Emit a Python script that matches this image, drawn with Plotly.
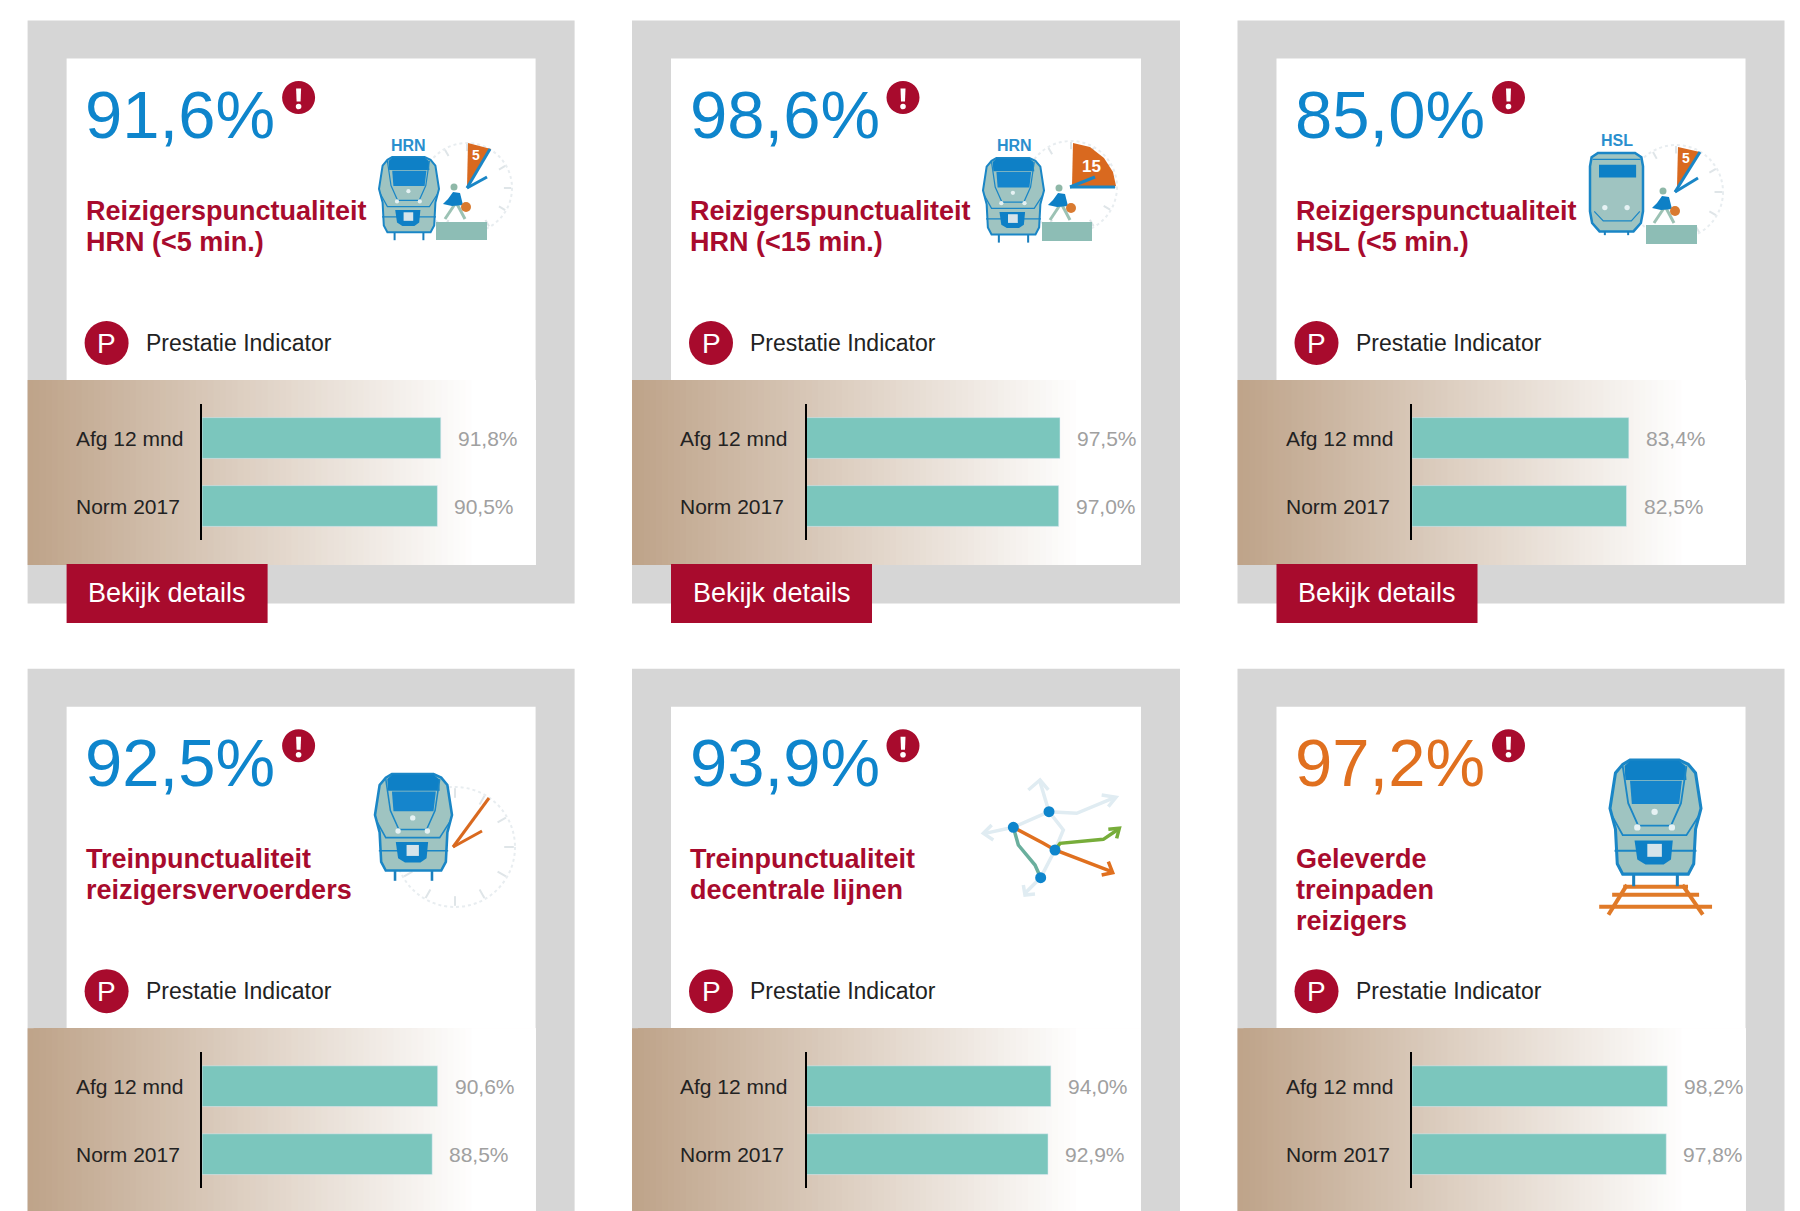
import math
from plotly.graph_objects import Bar, Figure

# data
big_values = [91.6, 98.6, 85.0, 92.5, 93.9, 97.2]
afg_values = [91.8, 97.5, 83.4, 90.6, 94.0, 98.2]
norm_values = [90.5, 97.0, 82.5, 88.5, 92.9, 97.8]
categories = ["Afg 12 mnd", "Norm 2017"]
titles = [
    ["Reizigerspunctualiteit", "HRN (<5 min.)"],
    ["Reizigerspunctualiteit", "HRN (<15 min.)"],
    ["Reizigerspunctualiteit", "HSL (<5 min.)"],
    ["Treinpunctualiteit", "reizigersvervoerders"],
    ["Treinpunctualiteit", "decentrale lijnen"],
    ["Geleverde", "treinpaden", "reizigers"],
]
indicator_label = "Prestatie Indicator"
button_label = "Bekijk details"

W, H = 1800, 1211
card_x = [27.6, 632, 1237.5]
card_w = [547, 548, 547]
card_y = [20.5, 668.7]
RED = "#a80b2d"
BLUE = "#0e85cc"
ORANGE = "#e0701f"
TRAIN_FILL = "#9fc4c1"
FONT = "Liberation Sans"

shapes = []
annotations = []


def fx(x):
    return x / W


def fy(y):
    return 1 - y / H


def rect(x0, y0, x1, y1, color):
    shapes.append(dict(type="rect", xref="paper", yref="paper", layer="below",
                       x0=fx(x0), x1=fx(x1), y0=fy(y0), y1=fy(y1),
                       fillcolor=color, line_width=0))


def circle(cx, cy, r, color):
    shapes.append(dict(type="circle", xref="paper", yref="paper", layer="below",
                       x0=fx(cx - r), x1=fx(cx + r), y0=fy(cy - r), y1=fy(cy + r),
                       fillcolor=color, line_width=0))


def poly(points, fill=None, line=None, width=1.5, closed=True):
    d = "M" + " L".join(f"{fx(x):.5f},{fy(y):.5f}" for x, y in points)
    if closed:
        d += " Z"
    s = dict(type="path", xref="paper", yref="paper", layer="below", path=d)
    s["fillcolor"] = fill if fill else "rgba(0,0,0,0)"
    s["line"] = dict(color=line if line else "rgba(0,0,0,0)", width=width if line else 0)
    shapes.append(s)


def text(x, y, s, size, color, anchor="left", bold=False):
    if bold:
        s = "<b>" + s + "</b>"
    annotations.append(dict(xref="paper", yref="paper", x=fx(x), y=fy(y), text=s,
                            showarrow=False, xanchor=anchor, yanchor="middle",
                            font=dict(family=FONT, size=size, color=color)))


def train(x, y, w):
    u = w / 100
    v = u * 0.95
    p = lambda pts: [(x + a * u, y + b * v) for a, b in pts]
    lw = max(2, w / 30)
    poly(p([(26, 132), (26, 146)]), line="#1a7fbd", width=lw, closed=False)
    poly(p([(74, 132), (74, 146)]), line="#1a7fbd", width=lw, closed=False)
    poly(p([(22, 0), (76, 0), (86, 5), (94, 15), (100, 56), (94, 80), (92, 120),
            (86, 132), (14, 132), (8, 120), (6, 80), (0, 56), (6, 15), (14, 5)]),
         fill=TRAIN_FILL, line="#1a86c6", width=lw)
    poly(p([(16, 7), (22, 1), (76, 1), (83, 7), (84, 23), (17, 23)]), fill="#0e80c6")
    poly(p([(14, 7), (20, 50), (31, 76), (67, 76), (78, 50), (84, 7)]),
         line="#1a86c6", width=lw * 0.6, closed=False)
    poly(p([(22, 24), (79, 24), (76, 51), (24, 51)]), fill="#1585cc")
    poly(p([(2, 64), (14, 87), (84, 87), (98, 64)]), line="#1a86c6", width=lw * 0.6, closed=False)
    poly(p([(5, 105), (95, 105)]), line="#1a86c6", width=lw * 0.6, closed=False)
    poly(p([(27, 93), (69, 93), (67, 115), (59, 121), (39, 121), (30, 115)]), fill="#0e80c6")
    poly(p([(41, 97), (57, 97), (57, 112), (41, 112)]), fill="#d5e4ea")
    for a, b in [(49, 60), (30, 78), (68, 78)]:
        circle(x + a * u, y + b * v, 3.5 * u, "#e6f2f4")


def hsl_train(x, y, w):
    u = w / 100
    p = lambda pts: [(x + a * u, y + b * u) for a, b in pts]
    poly(p([(15, 0), (85, 0), (97, 8), (100, 25), (100, 110), (96, 132), (82, 148),
            (18, 148), (4, 132), (0, 110), (0, 25), (3, 8)]),
         fill=TRAIN_FILL, line="#1a86c6", width=2.5)
    poly(p([(5, 12), (95, 12)]), line="#1a86c6", width=1.2, closed=False)
    poly(p([(17, 22), (87, 22), (87, 46), (17, 46)]), fill="#0e80c6")
    poly(p([(8, 110), (25, 128), (78, 128), (94, 110)]), line="#1a86c6", width=1.2, closed=False)
    poly(p([(28, 148), (28, 155)]), line="#1a7fbd", width=2, closed=False)
    poly(p([(72, 148), (72, 155)]), line="#1a7fbd", width=2, closed=False)
    circle(x + 28 * u, y + 103 * u, 5 * u, "#e6f2f4")
    circle(x + 70 * u, y + 103 * u, 5 * u, "#e6f2f4")


def clock(cx, cy, r):
    shapes.append(dict(type="circle", xref="paper", yref="paper", layer="below",
                       x0=fx(cx - r), x1=fx(cx + r), y0=fy(cy - r), y1=fy(cy + r),
                       line=dict(color="#e8edf0", width=2, dash="dot")))
    for i in range(12):
        a = i * math.pi / 6
        poly([(cx + r * 0.82 * math.sin(a), cy - r * 0.82 * math.cos(a)),
              (cx + r * 0.98 * math.sin(a), cy - r * 0.98 * math.cos(a))],
             line="#dfe5e8", width=2, closed=False)


def person(hx, hy):
    poly([(hx + 1, hy + 17), (hx - 9, hy + 32)], line="#9cc2b4", width=3, closed=False)
    poly([(hx + 3, hy + 17), (hx + 11, hy + 32)], line="#9cc2b4", width=3, closed=False)
    poly([(hx - 1, hy + 5), (hx + 6, hy + 6), (hx + 9, hy + 18), (hx - 2, hy + 19),
          (hx - 11, hy + 17), (hx - 6, hy + 12)], fill="#0e80c6")
    circle(hx, hy, 3.5, "#8fb8a8")
    circle(hx + 12, hy + 20, 5, "#d97a30")


def hands(cx, cy, tip1, tip2, color):
    poly([(cx, cy), tip1], line=color, width=3, closed=False)
    poly([(cx, cy), tip2], line=color, width=3, closed=False)


def network():
    c = lambda pts: [(960 + a / 3, 770 + b / 3) for a, b in pts]
    light = "#e0ecf2"
    for pts in [[(160, 172), (267, 125)], [(267, 125), (240, 35)], [(205, 60), (240, 30), (265, 60)],
                [(267, 125), (350, 130), (465, 82)], [(425, 75), (468, 82), (445, 110)],
                [(267, 125), (310, 180), (285, 240)], [(160, 172), (75, 190)],
                [(95, 165), (70, 190), (100, 210)],
                [(285, 240), (242, 323), (195, 370)], [(190, 345), (195, 375), (225, 372)]]:
        poly(c(pts), line=light, width=3.5, closed=False)
    poly(c([(160, 172), (175, 225), (225, 285), (242, 323)]), line="#6aaf9d", width=3.5, closed=False)
    poly(c([(285, 240), (300, 220), (430, 208), (475, 178)]), line="#77ad3a", width=3.5, closed=False)
    poly(c([(445, 178), (478, 175), (470, 205)]), line="#77ad3a", width=3.5, closed=False)
    poly(c([(160, 172), (250, 220), (285, 240), (455, 305)]), line=ORANGE, width=3.5, closed=False)
    poly(c([(445, 275), (458, 308), (425, 315)]), line=ORANGE, width=3.5, closed=False)
    for a, b in [(160, 172), (267, 125), (285, 240), (242, 323)]:
        circle(960 + a / 3, 770 + b / 3, 5.5, BLUE)


def tracks():
    c = lambda pts: [(1220 + a / 2.703, 660 + b / 2.846) for a, b in pts]
    for pts in [[(1100, 640), (1050, 725)], [(1250, 640), (1305, 725)],
                [(1090, 645), (1265, 645)], [(1060, 668), (1295, 668)], [(1025, 702), (1330, 702)]]:
        poly(c(pts), line="#e07a28", width=4, closed=False)


def draw_icon(i):
    if i == 0:
        clock(467, 188, 45)
        poly([(468, 143), (491, 149), (467, 188)], fill="#d9691f")
        text(476, 155, "5", 14, "white", "center", True)
        hands(467, 188, (490, 149), (487, 177), "#1a86c6")
        poly([(436, 222), (487, 222), (487, 240), (436, 240)], fill="#8dbdb5")
        person(454, 187)
        train(379, 157, 60)
        text(408, 146, "HRN", 16, "#2a8fce", "center", True)
    elif i == 1:
        clock(1071, 187, 46)
        poly([(1073, 143), (1090, 147), (1104, 158), (1113, 172), (1116, 186), (1072, 186)], fill="#d9691f")
        text(1091, 166, "15", 17, "white", "center", True)
        hands(1070, 187, (1115, 187), (1095, 177), "#1a86c6")
        poly([(1042, 222), (1092, 222), (1092, 241), (1042, 241)], fill="#8dbdb5")
        person(1059, 188)
        train(983, 158, 61)
        text(1014, 146, "HRN", 16, "#2a8fce", "center", True)
    elif i == 2:
        clock(1676, 192, 47)
        poly([(1678, 147), (1700, 152), (1677, 187)], fill="#d9691f")
        text(1686, 158, "5", 14, "white", "center", True)
        hands(1675, 192, (1700, 152), (1698, 178), "#1a86c6")
        poly([(1646, 225), (1697, 225), (1697, 244), (1646, 244)], fill="#8dbdb5")
        person(1663, 191)
        hsl_train(1590, 153, 53)
        text(1617, 141, "HSL", 16, "#2a8fce", "center", True)
    elif i == 3:
        clock(455, 847, 60)
        train(375, 774, 77)
        hands(453, 847, (489, 798), (482, 831), "#d9691f")
    elif i == 4:
        network()
    else:
        tracks()
        train(1610, 760, 91)


fig = Figure()

for i in range(6):
    n = "" if i == 0 else str(i + 1)
    X = card_x[i % 3]
    Y = card_y[i // 3]
    cw = card_w[i % 3]

    # card background
    rect(X, Y, X + cw, min(Y + 583, H), "#d6d6d6")
    rect(X + 39, Y + 38, X + cw - 39, min(Y + 544.5, H), "white")
    # brown band fading to white
    top, bottom = Y + 359.5, min(Y + 544.5, H)
    for b in range(0, 444, 6):
        t = b / 444
        col = "rgb(%d,%d,%d)" % (191 + 64 * t, 164 + 91 * t, 138 + 117 * t)
        rect(X + b, top, X + cw - 39, bottom, col)
    rect(X + 444, top, X + cw - 39, bottom, "white")

    draw_icon(i)

    # big number with warning mark
    big_color = ORANGE if i == 5 else BLUE
    text(X + 55.5, Y + 94, f"{big_values[i]:.1f}%".replace(".", ","), 67, big_color)
    circle(X + 271, Y + 77, 16.5, RED)
    poly([(X + 268.5, Y + 68), (X + 273.5, Y + 68), (X + 273, Y + 81), (X + 269, Y + 81)], fill="white")
    circle(X + 271, Y + 86, 2.8, "white")

    # title lines
    for k, line in enumerate(titles[i]):
        text(X + 56, Y + 190.5 + k * 31, line, 27, RED, bold=True)

    # indicator
    circle(X + 79, Y + 322.5, 22, RED)
    text(X + 79, Y + 322.5, "P", 28, "white", "center")
    text(X + 116, Y + 322.5, indicator_label, 23, "#222222")

    # button, below the page for the second row
    if Y + 544 < H:
        rect(X + 39, Y + 543.5, X + 240, Y + 602.5, RED)
        text(X + 139.5, Y + 573, button_label, 27, "white", "center")

    # bars
    x0 = X + 174.5
    x1 = x0 + 260
    vals = [afg_values[i], norm_values[i]]
    fig.add_trace(Bar(x=vals, y=categories, orientation="h", marker_color="#7bc6bd",
                      xaxis=f"x{n}", yaxis=f"y{n}", showlegend=False, hoverinfo="skip"))
    fig.update_layout({
        f"xaxis{n}": dict(domain=[fx(x0), fx(x1)], range=[0, 100], visible=False, anchor=f"y{n}"),
        f"yaxis{n}": dict(domain=[fy(Y + 519.5), fy(Y + 383.5)], type="category",
                          categoryorder="array", categoryarray=categories, autorange="reversed",
                          showticklabels=False, ticks="", showgrid=False, zeroline=False,
                          showline=True, linecolor="black", linewidth=2, anchor=f"x{n}"),
    })
    for cat, v in zip(categories, vals):
        annotations.append(dict(xref=f"x{n}", yref=f"y{n}", x=v, y=cat, xshift=15,
                                text=f"{v:.1f}%".replace(".", ","), showarrow=False,
                                xanchor="left", yanchor="middle",
                                font=dict(family=FONT, size=21, color="#a0a0a0")))
        annotations.append(dict(xref=f"x{n} domain", yref=f"y{n}", x=(X + 46 - x0) / (x1 - x0), y=cat,
                                text=cat, showarrow=False, xanchor="left", yanchor="middle",
                                font=dict(family=FONT, size=21, color="#222222")))

fig.update_layout(width=W, height=H, margin=dict(l=0, r=0, t=0, b=0),
                  paper_bgcolor="white", plot_bgcolor="rgba(0,0,0,0)",
                  bargap=0.4, shapes=shapes, annotations=annotations)

fig.write_html("out.html", config={"displayModeBar": False},
               post_script="document.body.style.margin='0';")
